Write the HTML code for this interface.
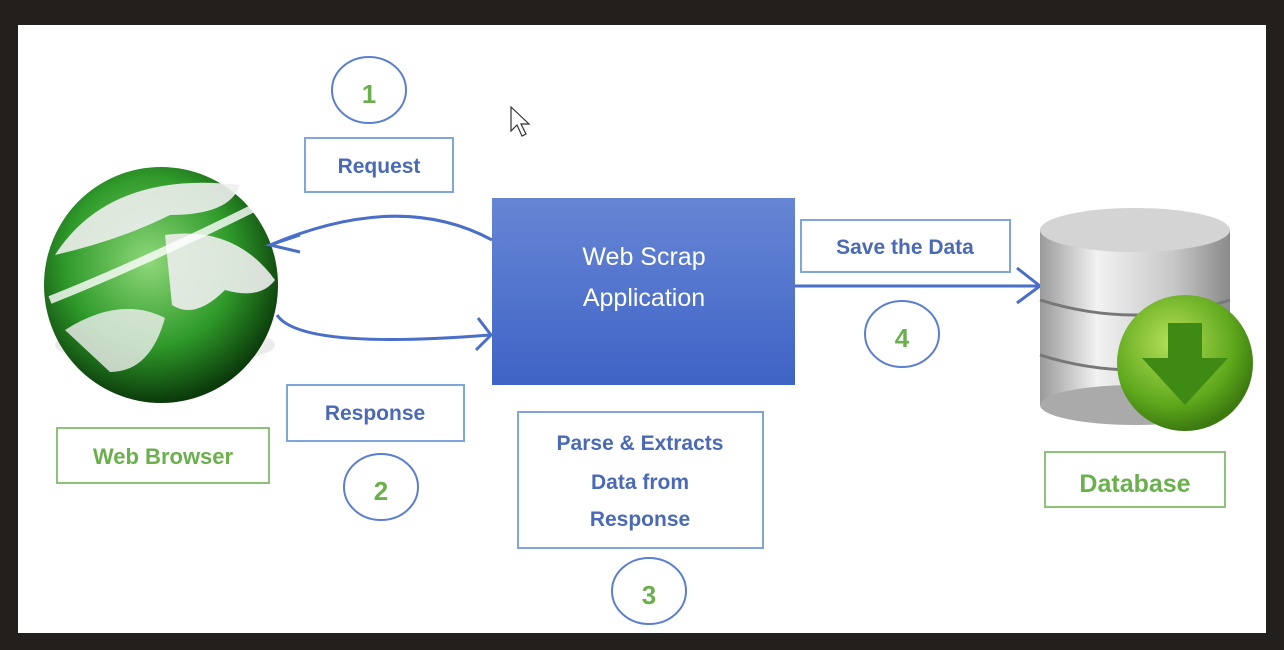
<!DOCTYPE html>
<html><head><style>body{margin:0;background:#231f1c}svg{display:block}</style></head><body>
<svg width="1284" height="650" viewBox="0 0 1284 650" xmlns="http://www.w3.org/2000/svg" font-family="Liberation Sans, sans-serif" font-weight="bold">
<defs>
<linearGradient id="bx" x1="0" y1="0" x2="0" y2="1"><stop offset="0" stop-color="#6686d4"/><stop offset="1" stop-color="#3f63c6"/></linearGradient>
<radialGradient id="gl" cx="0.45" cy="0.4" r="0.6"><stop offset="0" stop-color="#8fd87a"/><stop offset="0.6" stop-color="#2f9a2a"/><stop offset="1" stop-color="#0b3a0b"/></radialGradient>
<linearGradient id="cy" x1="0" y1="0" x2="1" y2="0"><stop offset="0" stop-color="#9a9a9a"/><stop offset="0.3" stop-color="#f2f2f2"/><stop offset="0.7" stop-color="#c8c8c8"/><stop offset="1" stop-color="#8a8a8a"/></linearGradient>
<radialGradient id="gb" cx="0.4" cy="0.35" r="0.65"><stop offset="0" stop-color="#b6e05a"/><stop offset="0.7" stop-color="#5fa81c"/><stop offset="1" stop-color="#3c7a10"/></radialGradient>
</defs>
<rect x="18" y="25" width="1248" height="608" fill="#fff"/>
<!-- globe -->
<ellipse cx="165" cy="345" rx="110" ry="20" fill="#ddd" opacity="0.6"/>
<ellipse cx="161" cy="285" rx="117" ry="118" fill="url(#gl)"/>
<path d="M55 255 Q110 170 240 185 Q230 215 170 215 Q120 240 55 255Z" fill="#eee" opacity="0.9"/>
<path d="M165 235 Q235 225 275 280 Q260 300 225 290 Q195 320 172 305Z" fill="#eee" opacity="0.9"/>
<path d="M65 330 Q120 295 165 318 Q150 372 110 372Z" fill="#f0f0f0" opacity="0.8"/>
<path d="M50 300 Q150 260 270 200" stroke="#fff" stroke-width="8" fill="none" opacity="0.8"/>
<!-- main box -->
<rect x="492" y="198" width="303" height="187" fill="url(#bx)"/>
<text x="644" y="265" fill="#fff" font-weight="normal" font-size="25" text-anchor="middle">Web Scrap</text>
<text x="644" y="306" fill="#fff" font-weight="normal" font-size="25" text-anchor="middle">Application</text>
<!-- arrows -->
<g stroke="#4a6fc9" stroke-width="3" fill="none">
<path d="M492 240 Q400 190 270 245"/><path d="M300 235 L270 245 L300 252"/>
<path d="M277 315 Q300 350 490 335"/><path d="M478 318 L491 335 L476 350"/>
<path d="M795 286 L1040 286"/><path d="M1017 268 L1040 286 L1017 303"/>
</g>
<!-- database -->
<rect x="1040" y="230" width="190" height="175" fill="url(#cy)"/>
<ellipse cx="1135" cy="405" rx="95" ry="20" fill="#aaa"/>
<path d="M1040 300 Q1135 330 1230 300" stroke="#777" stroke-width="3" fill="none"/>
<path d="M1040 355 Q1135 385 1230 355" stroke="#777" stroke-width="3" fill="none"/>
<ellipse cx="1135" cy="230" rx="95" ry="22" fill="#d4d4d4"/>
<circle cx="1185" cy="363" r="68" fill="url(#gb)"/>
<path d="M1168 323 h34 v35 h26 l-43 47 l-43 -47 h26z" fill="#3f8a14"/>
<!-- label boxes -->
<g fill="none" stroke-width="2">
<rect x="305" y="138" width="148" height="54" stroke="#7fa6dc"/>
<rect x="287" y="385" width="177" height="56" stroke="#7fa6dc"/>
<rect x="518" y="412" width="245" height="136" stroke="#7fa6dc"/>
<rect x="801" y="220" width="209" height="52" stroke="#7fa6dc"/>
<rect x="57" y="428" width="212" height="55" stroke="#8cc27a"/>
<rect x="1045" y="452" width="180" height="55" stroke="#8cc27a"/>
<ellipse cx="369" cy="90" rx="37" ry="33" stroke="#5b7fd0"/>
<ellipse cx="381" cy="487" rx="37" ry="33" stroke="#5b7fd0"/>
<ellipse cx="649" cy="591" rx="37" ry="33" stroke="#5b7fd0"/>
<ellipse cx="902" cy="334" rx="37" ry="33" stroke="#5b7fd0"/>
</g>
<g fill="#4a6ab8" font-size="21" text-anchor="middle">
<text x="379" y="173">Request</text>
<text x="375" y="420">Response</text>
<text x="640" y="450">Parse &amp; Extracts</text>
<text x="640" y="489">Data from</text>
<text x="640" y="526">Response</text>
<text x="905" y="254">Save the Data</text>
</g>
<g fill="#6ab04c" text-anchor="middle">
<text x="163" y="464" font-size="22">Web Browser</text>
<text x="1135" y="492" font-size="25">Database</text>
<text x="369" y="103" font-size="26">1</text>
<text x="381" y="500" font-size="26">2</text>
<text x="649" y="604" font-size="26">3</text>
<text x="902" y="347" font-size="26">4</text>
</g>
<path d="M511 107 L511 131 L517 125 L522 136 L526 134 L521 124 L529 124Z" fill="#fff" stroke="#333" stroke-width="1.2"/>
</svg>
</body></html>
